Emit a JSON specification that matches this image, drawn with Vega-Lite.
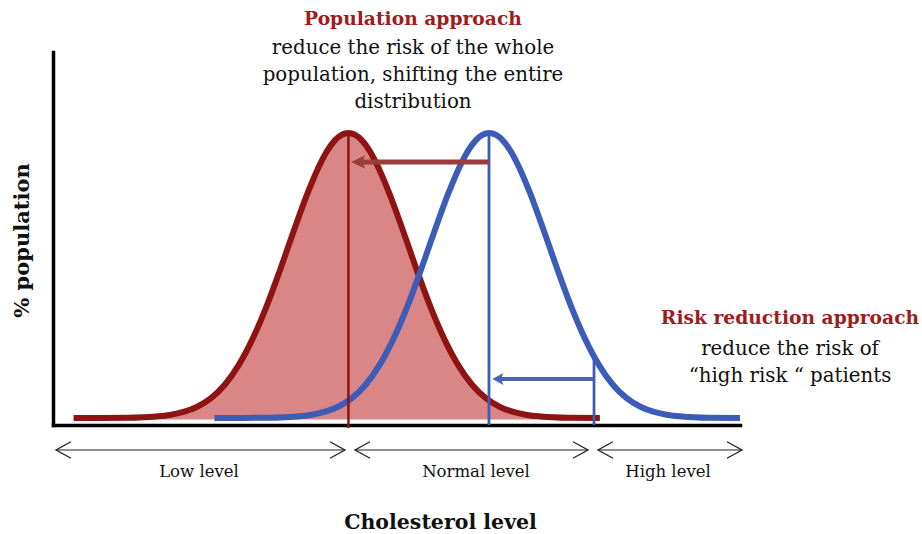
{
  "$schema": "https://vega.github.io/schema/vega-lite/v6.json",
  "width": 687,
  "height": 373,
  "autosize": {"type": "none"},
  "padding": {"left": 53, "top": 52, "right": 182, "bottom": 109},
  "background": "white",
  "config": {"view": {"stroke": null}, "font": "DejaVu Serif"},
  "datasets": {
    "redCurve": [
      {"x": 3.0, "y": 1.88}, {"x": 7.0, "y": 1.89}, {"x": 11.0, "y": 1.95}, {"x": 15.0, "y": 2.3},
      {"x": 17.0, "y": 2.7}, {"x": 19.0, "y": 3.5}, {"x": 21.0, "y": 4.9}, {"x": 23.0, "y": 7.2},
      {"x": 25.0, "y": 10.8}, {"x": 27.0, "y": 16.0}, {"x": 29.0, "y": 22.9}, {"x": 31.0, "y": 31.4},
      {"x": 33.0, "y": 41.3}, {"x": 35.0, "y": 51.8}, {"x": 37.0, "y": 61.9}, {"x": 39.0, "y": 70.43},
      {"x": 40.0, "y": 73.76}, {"x": 41.0, "y": 76.24}, {"x": 42.0, "y": 77.76}, {"x": 43.0, "y": 78.28},
      {"x": 44.0, "y": 77.76}, {"x": 45.0, "y": 76.24}, {"x": 46.0, "y": 73.76}, {"x": 47.0, "y": 70.43},
      {"x": 49.0, "y": 61.9}, {"x": 51.0, "y": 51.8}, {"x": 53.0, "y": 41.3}, {"x": 55.0, "y": 31.4},
      {"x": 57.0, "y": 22.9}, {"x": 59.0, "y": 16.0}, {"x": 61.0, "y": 10.8}, {"x": 63.0, "y": 7.2},
      {"x": 65.0, "y": 4.9}, {"x": 67.0, "y": 3.5}, {"x": 69.0, "y": 2.7}, {"x": 71.0, "y": 2.3},
      {"x": 75.0, "y": 1.95}, {"x": 79.6, "y": 1.88}
    ],
    "blueCurve": [
      {"x": 23.5, "y": 1.88}, {"x": 27.5, "y": 1.89}, {"x": 31.5, "y": 1.95}, {"x": 35.5, "y": 2.3},
      {"x": 37.5, "y": 2.7}, {"x": 39.5, "y": 3.5}, {"x": 41.5, "y": 4.9}, {"x": 43.5, "y": 7.2},
      {"x": 45.5, "y": 10.8}, {"x": 47.5, "y": 16.0}, {"x": 49.5, "y": 22.9}, {"x": 51.5, "y": 31.4},
      {"x": 53.5, "y": 41.3}, {"x": 55.5, "y": 51.8}, {"x": 57.5, "y": 61.9}, {"x": 59.5, "y": 70.43},
      {"x": 60.5, "y": 73.76}, {"x": 61.5, "y": 76.24}, {"x": 62.5, "y": 77.76}, {"x": 63.5, "y": 78.28},
      {"x": 64.5, "y": 77.76}, {"x": 65.5, "y": 76.24}, {"x": 66.5, "y": 73.76}, {"x": 67.5, "y": 70.43},
      {"x": 69.5, "y": 61.9}, {"x": 71.5, "y": 51.8}, {"x": 73.5, "y": 41.3}, {"x": 75.5, "y": 31.4},
      {"x": 77.5, "y": 22.9}, {"x": 79.5, "y": 16.0}, {"x": 81.5, "y": 10.8}, {"x": 83.5, "y": 7.2},
      {"x": 85.5, "y": 4.9}, {"x": 87.5, "y": 3.5}, {"x": 89.5, "y": 2.7}, {"x": 91.5, "y": 2.3},
      {"x": 95.5, "y": 1.95}, {"x": 100.0, "y": 1.88}
    ],
    "redVertical": [{"x": 43.0, "y": 78.28, "y2": -0.8}],
    "blueVerticals": [{"x": 63.46, "y": 78.28, "y2": 0}, {"x": 78.75, "y": 18.8, "y2": 0}],
    "redArrow": [{"x": 63.4, "x2": 44.8, "y": 70.51}],
    "redHead": [{"x": 43.4, "y": 70.51}],
    "blueArrow": [{"x": 78.75, "x2": 65.0, "y": 12.33}],
    "blueHead": [{"x": 63.95, "y": 12.33}],
    "rangeLines": [
      {"x": 0.44, "x2": 42.5, "y": -6.7},
      {"x": 43.96, "x2": 77.87, "y": -6.7},
      {"x": 79.33, "x2": 100.29, "y": -6.7}
    ],
    "rangeHeads": [
      {"x": 0.44, "y": -6.7, "dir": "left"}, {"x": 42.5, "y": -6.7, "dir": "right"},
      {"x": 43.96, "y": -6.7, "dir": "left"}, {"x": 77.87, "y": -6.7, "dir": "right"},
      {"x": 79.33, "y": -6.7, "dir": "left"}, {"x": 100.29, "y": -6.7, "dir": "right"}
    ],
    "headings": [
      {"x": 52.4, "y": 108.85, "t": "Population approach"},
      {"x": 107.28, "y": 28.69, "t": "Risk reduction approach"}
    ],
    "bodyText": [
      {"x": 52.4, "y": 101.07, "t": "reduce the risk of the whole"},
      {"x": 52.4, "y": 93.83, "t": "population, shifting the entire"},
      {"x": 52.4, "y": 86.6, "t": "distribution"},
      {"x": 107.28, "y": 20.38, "t": "reduce the risk of"},
      {"x": 107.28, "y": 13.14, "t": "“high risk “ patients"}
    ],
    "rangeLabels": [
      {"x": 21.25, "y": -12.6, "t": "Low level"},
      {"x": 61.57, "y": -12.6, "t": "Normal level"},
      {"x": 89.52, "y": -12.6, "t": "High level"}
    ]
  },
  "encoding": {
    "x": {
      "field": "x", "type": "quantitative",
      "scale": {"domain": [0, 100], "nice": false, "zero": false},
      "axis": {
        "title": "Cholesterol level", "ticks": false, "labels": false, "grid": false,
        "domainColor": "#000000", "domainWidth": 3.5, "domainCap": "square",
        "titleFont": "DejaVu Serif", "titleFontSize": 20.5, "titleFontWeight": "bold", "titleColor": "#111111",
        "titleX": 387, "titleY": 97, "titleBaseline": "middle", "titleAlign": "center"
      }
    },
    "y": {
      "field": "y", "type": "quantitative",
      "scale": {"domain": [0, 100], "nice": false, "zero": false},
      "axis": {
        "title": "% population", "ticks": false, "labels": false, "grid": false,
        "domainColor": "#000000", "domainWidth": 3.5, "domainCap": "square",
        "titleFont": "DejaVu Serif", "titleFontSize": 21, "titleFontWeight": "bold", "titleColor": "#111111",
        "titleX": -31, "titleY": 188, "titleAngle": -90, "titleBaseline": "middle", "titleAlign": "center"
      }
    }
  },
  "layer": [
    {
      "data": {"name": "redCurve"},
      "mark": {"type": "area", "color": "#DB8686", "opacity": 1, "interpolate": "monotone"},
      "encoding": {"y2": {"datum": 1.5}}
    },
    {
      "data": {"name": "redCurve"},
      "mark": {"type": "line", "color": "#8E1313", "strokeWidth": 6, "interpolate": "monotone", "strokeCap": "butt"},
      "encoding": {}
    },
    {
      "data": {"name": "blueCurve"},
      "mark": {"type": "line", "color": "#3C5CB8", "strokeWidth": 6, "interpolate": "monotone", "strokeCap": "butt"},
      "encoding": {}
    },
    {
      "data": {"name": "redVertical"},
      "mark": {"type": "rule", "color": "#8E1313", "strokeWidth": 2.5},
      "encoding": {"y2": {"field": "y2"}}
    },
    {
      "data": {"name": "blueVerticals"},
      "mark": {"type": "rule", "color": "#3C5CB8", "strokeWidth": 2.8},
      "encoding": {"y2": {"field": "y2"}}
    },
    {
      "data": {"name": "redArrow"},
      "mark": {"type": "rule", "color": "#9C3C3C", "strokeWidth": 5},
      "encoding": {"x2": {"field": "x2"}}
    },
    {
      "data": {"name": "redHead"},
      "mark": {"type": "point", "shape": "M 0 0 L 1 -0.48 L 0.8 0 L 1 0.48 Z", "size": 784, "filled": true, "color": "#9C3C3C", "opacity": 1, "strokeWidth": 0},
      "encoding": {}
    },
    {
      "data": {"name": "blueArrow"},
      "mark": {"type": "rule", "color": "#4A64B6", "strokeWidth": 4},
      "encoding": {"x2": {"field": "x2"}}
    },
    {
      "data": {"name": "blueHead"},
      "mark": {"type": "point", "shape": "M 0 0 L 1 -0.55 L 0.8 0 L 1 0.55 Z", "size": 484, "filled": true, "color": "#4A64B6", "opacity": 1, "strokeWidth": 0},
      "encoding": {}
    },
    {
      "data": {"name": "rangeLines"},
      "mark": {"type": "rule", "color": "#222222", "strokeWidth": 1.2},
      "encoding": {"x2": {"field": "x2"}}
    },
    {
      "data": {"name": "rangeHeads"},
      "mark": {"type": "point", "size": 900, "filled": false, "color": "#222222", "opacity": 1, "strokeWidth": 1.3},
      "encoding": {
        "shape": {
          "field": "dir", "type": "nominal",
          "scale": {"domain": ["left", "right"], "range": ["M 1 -0.55 L 0 0 L 1 0.55", "M -1 -0.55 L 0 0 L -1 0.55"]},
          "legend": null
        }
      }
    },
    {
      "data": {"name": "headings"},
      "mark": {"type": "text", "font": "DejaVu Serif", "fontSize": 18.7, "fontWeight": "bold", "color": "#A01C1C", "align": "center", "baseline": "middle"},
      "encoding": {"text": {"field": "t"}}
    },
    {
      "data": {"name": "bodyText"},
      "mark": {"type": "text", "font": "DejaVu Serif", "fontSize": 19.8, "color": "#111111", "align": "center", "baseline": "middle"},
      "encoding": {"text": {"field": "t"}}
    },
    {
      "data": {"name": "rangeLabels"},
      "mark": {"type": "text", "font": "DejaVu Serif", "fontSize": 16.5, "color": "#111111", "align": "center", "baseline": "middle"},
      "encoding": {"text": {"field": "t"}}
    }
  ]
}
